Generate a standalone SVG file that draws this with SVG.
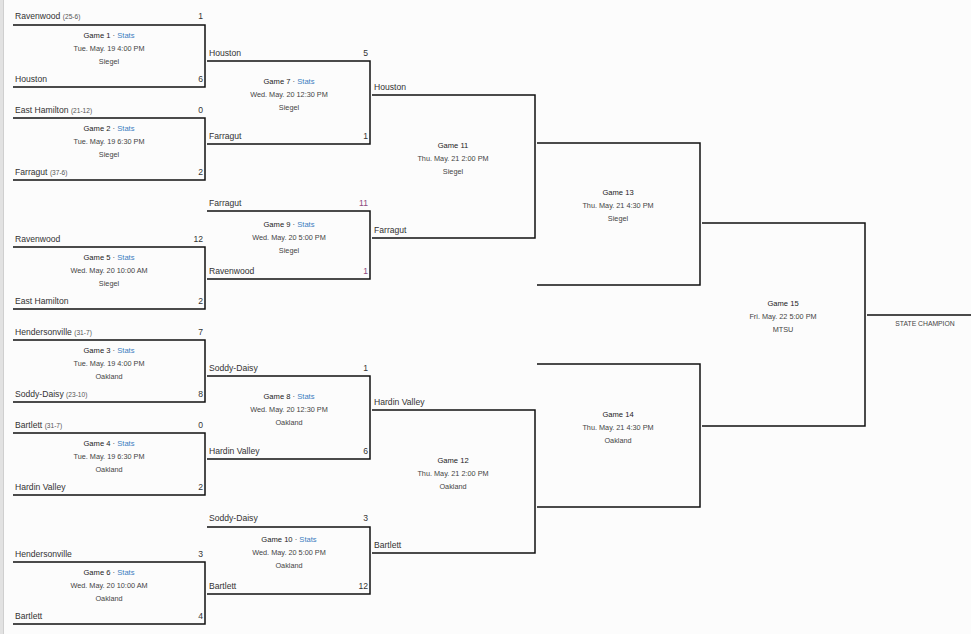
<svg xmlns="http://www.w3.org/2000/svg" width="971" height="634" viewBox="0 0 971 634">
<style>
text{font-family:"Liberation Sans",Arial,sans-serif}
.br{fill:none;stroke:#111;stroke-width:1.5}
.tm{font-size:8.6px;fill:#333}
.rec{font-size:6.6px;fill:#555}
.sc{font-size:8.6px;fill:#333;text-anchor:end}
text.sw{fill:#8e4a80}
.gl{font-size:7.6px;fill:#222;text-anchor:middle}
.st{fill:#3a7dc0}
.dt{font-size:7.3px;fill:#444;text-anchor:middle}
.ch{font-size:6.8px;fill:#444;text-anchor:middle}
</style>
<rect width="971" height="634" fill="#fcfcfc"/>
<rect x="0" y="0" width="3" height="634" fill="#e2e2e2"/>
<line x1="3.5" y1="0" x2="3.5" y2="634" stroke="#cfcfcf" stroke-width="1"/>

<g id="game1">
<path class="br" d="M13,25H205V87H13"/>
<text class="tm" x="15" y="19">Ravenwood <tspan class="rec">(25-6)</tspan></text><text class="sc" x="203" y="19">1</text>
<text class="gl" x="109" y="38">Game 1 · <tspan class="st">Stats</tspan></text>
<text class="dt" x="109" y="51">Tue. May. 19 4:00 PM</text>
<text class="dt" x="109" y="64">Siegel</text>
<text class="tm" x="15" y="82">Houston</text><text class="sc" x="203" y="82">6</text>
</g>

<g id="game2">
<path class="br" d="M13,118H205V180H13"/>
<text class="tm" x="15" y="113">East Hamilton <tspan class="rec">(21-12)</tspan></text><text class="sc" x="203" y="113">0</text>
<text class="gl" x="109" y="131">Game 2 · <tspan class="st">Stats</tspan></text>
<text class="dt" x="109" y="144">Tue. May. 19 6:30 PM</text>
<text class="dt" x="109" y="157">Siegel</text>
<text class="tm" x="15" y="175">Farragut <tspan class="rec">(37-6)</tspan></text><text class="sc" x="203" y="175">2</text>
</g>

<g id="game5">
<path class="br" d="M13,247H205V309H13"/>
<text class="tm" x="15" y="242">Ravenwood</text><text class="sc" x="203" y="242">12</text>
<text class="gl" x="109" y="260">Game 5 · <tspan class="st">Stats</tspan></text>
<text class="dt" x="109" y="273">Wed. May. 20 10:00 AM</text>
<text class="dt" x="109" y="286">Siegel</text>
<text class="tm" x="15" y="304">East Hamilton</text><text class="sc" x="203" y="304">2</text>
</g>

<g id="game3">
<path class="br" d="M13,340H205V402H13"/>
<text class="tm" x="15" y="335">Hendersonville <tspan class="rec">(31-7)</tspan></text><text class="sc" x="203" y="335">7</text>
<text class="gl" x="109" y="353">Game 3 · <tspan class="st">Stats</tspan></text>
<text class="dt" x="109" y="366">Tue. May. 19 4:00 PM</text>
<text class="dt" x="109" y="379">Oakland</text>
<text class="tm" x="15" y="397">Soddy-Daisy <tspan class="rec">(23-10)</tspan></text><text class="sc" x="203" y="397">8</text>
</g>

<g id="game4">
<path class="br" d="M13,433H205V495H13"/>
<text class="tm" x="15" y="428">Bartlett <tspan class="rec">(31-7)</tspan></text><text class="sc" x="203" y="428">0</text>
<text class="gl" x="109" y="446">Game 4 · <tspan class="st">Stats</tspan></text>
<text class="dt" x="109" y="459">Tue. May. 19 6:30 PM</text>
<text class="dt" x="109" y="472">Oakland</text>
<text class="tm" x="15" y="490">Hardin Valley</text><text class="sc" x="203" y="490">2</text>
</g>

<g id="game6">
<path class="br" d="M13,562H205V624H13"/>
<text class="tm" x="15" y="557">Hendersonville</text><text class="sc" x="203" y="557">3</text>
<text class="gl" x="109" y="575">Game 6 · <tspan class="st">Stats</tspan></text>
<text class="dt" x="109" y="588">Wed. May. 20 10:00 AM</text>
<text class="dt" x="109" y="601">Oakland</text>
<text class="tm" x="15" y="619">Bartlett</text><text class="sc" x="203" y="619">4</text>
</g>

<g id="game7">
<path class="br" d="M207,61H370V144H207"/>
<text class="tm" x="209" y="56">Houston</text><text class="sc" x="368" y="56">5</text>
<text class="gl" x="289" y="84">Game 7 · <tspan class="st">Stats</tspan></text>
<text class="dt" x="289" y="97">Wed. May. 20 12:30 PM</text>
<text class="dt" x="289" y="110">Siegel</text>
<text class="tm" x="209" y="139">Farragut</text><text class="sc" x="368" y="139">1</text>
</g>

<g id="game9">
<path class="br" d="M207,211H370V279H207"/>
<text class="tm" x="209" y="206">Farragut</text><text class="sc sw" x="368" y="206">11</text>
<text class="gl" x="289" y="227">Game 9 · <tspan class="st">Stats</tspan></text>
<text class="dt" x="289" y="240">Wed. May. 20 5:00 PM</text>
<text class="dt" x="289" y="253">Siegel</text>
<text class="tm" x="209" y="274">Ravenwood</text><text class="sc sw" x="368" y="274">1</text>
</g>

<g id="game8">
<path class="br" d="M207,376H370V459H207"/>
<text class="tm" x="209" y="371">Soddy-Daisy</text><text class="sc" x="368" y="371">1</text>
<text class="gl" x="289" y="399">Game 8 · <tspan class="st">Stats</tspan></text>
<text class="dt" x="289" y="412">Wed. May. 20 12:30 PM</text>
<text class="dt" x="289" y="425">Oakland</text>
<text class="tm" x="209" y="454">Hardin Valley</text><text class="sc" x="368" y="454">6</text>
</g>

<g id="game10">
<path class="br" d="M207,527H370V594H207"/>
<text class="tm" x="209" y="521">Soddy-Daisy</text><text class="sc" x="368" y="521">3</text>
<text class="gl" x="289" y="542">Game 10 · <tspan class="st">Stats</tspan></text>
<text class="dt" x="289" y="555">Wed. May. 20 5:00 PM</text>
<text class="dt" x="289" y="568">Oakland</text>
<text class="tm" x="209" y="589">Bartlett</text><text class="sc" x="368" y="589">12</text>
</g>

<g id="game11">
<path class="br" d="M372,95H535V238H372"/>
<text class="tm" x="374" y="90">Houston</text>
<text class="gl" x="453" y="148">Game 11</text>
<text class="dt" x="453" y="161">Thu. May. 21 2:00 PM</text>
<text class="dt" x="453" y="174">Siegel</text>
<text class="tm" x="374" y="233">Farragut</text>
</g>

<g id="game12">
<path class="br" d="M372,410H535V553H372"/>
<text class="tm" x="374" y="405">Hardin Valley</text>
<text class="gl" x="453" y="463">Game 12</text>
<text class="dt" x="453" y="476">Thu. May. 21 2:00 PM</text>
<text class="dt" x="453" y="489">Oakland</text>
<text class="tm" x="374" y="548">Bartlett</text>
</g>

<g id="game13">
<path class="br" d="M537,143H700V285H537"/>
<text class="gl" x="618" y="195">Game 13</text>
<text class="dt" x="618" y="208">Thu. May. 21 4:30 PM</text>
<text class="dt" x="618" y="221">Siegel</text>
</g>

<g id="game14">
<path class="br" d="M537,364H700V507H537"/>
<text class="gl" x="618" y="417">Game 14</text>
<text class="dt" x="618" y="430">Thu. May. 21 4:30 PM</text>
<text class="dt" x="618" y="443">Oakland</text>
</g>

<g id="game15">
<path class="br" d="M702,223H865V426H702"/>
<text class="gl" x="783" y="306">Game 15</text>
<text class="dt" x="783" y="319">Fri. May. 22 5:00 PM</text>
<text class="dt" x="783" y="332">MTSU</text>
</g>

<g id="connectors">
<line class="br" x1="867" y1="315" x2="971" y2="315"/>
</g>

<g id="champion">
<text class="ch" x="925" y="325.5">STATE CHAMPION</text>
</g>
</svg>
